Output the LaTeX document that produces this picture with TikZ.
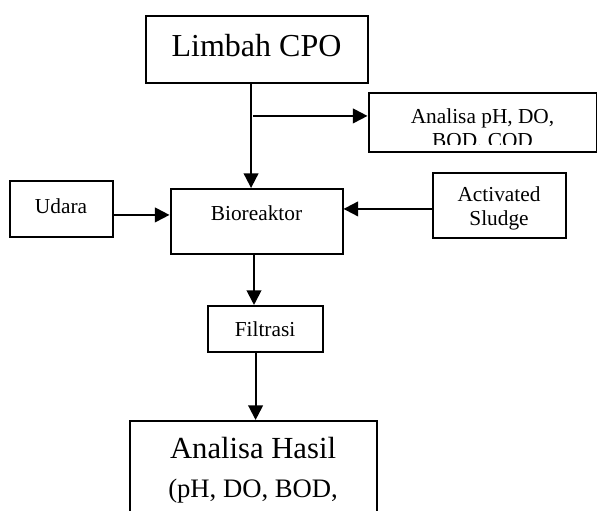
\documentclass[tikz,border=0pt]{standalone}
\usepackage{fontspec}
\setmainfont{Liberation Serif}
\usepackage{tikz}
\usetikzlibrary{positioning}
\usetikzlibrary{arrows.meta}

\begin{document}
\begin{tikzpicture} [>={Triangle[length=11pt,width=11pt]}, line width=1.5pt]
            % Set primary nodes
            \tikzset{
                stepBox/.style={
                        draw,
                        rectangle,
                        inner sep=0pt,
                        align=center,
                        font=\fontsize{16}{17.5}\selectfont
                    }
            }
            \tikzset{
                bigBox/.style={
                        draw,
                        rectangle,
                        inner sep=0pt,
                        align=center,
                        font=\fontsize{24}{28}\selectfont
                    }
            }
            % Page size
            \useasboundingbox (0,0) rectangle (447.75pt,-383.25pt);
            \clip (0,0) rectangle (447.75pt,-383.25pt);
            % Placing nodes
            \node[bigBox, minimum width=166.5pt, minimum height=50.25pt, text depth=5.6pt](limbah) at (192.4pt,-37.1pt){Limbah CPO};
            \node[stepBox, minimum width=171pt, minimum height=44.25pt, right = -0.75pt of limbah, yshift = -54.75pt](analisaAwal){};
            \node[stepBox, minimum width=129pt, minimum height=48.75pt, text depth=13pt, below = 78pt of limbah](bioreaktor){Bioreaktor};
            \node[stepBox, minimum width=77.25pt, minimum height=42pt, text depth=5pt, left = 42pt of bioreaktor, yshift = 9.4pt](udara){Udara};
            \node[stepBox, minimum width=99.75pt, minimum height=48.75pt, text height=33pt, right = 66pt of bioreaktor, yshift = 12pt](sludge){Activated\\Sludge};
            \node[stepBox, minimum width=86.25pt, minimum height=34.5pt, below = 37.5pt of bioreaktor, xshift = 6.4pt](filtrasi){Filtrasi};
            \node[bigBox, font=\fontsize{23}{27.75}\selectfont, minimum width=185.25pt, minimum height=76.5pt, text depth=7.5pt, below = 50.25pt of filtrasi, xshift = -9pt](hasil){Analisa Hasil\\[1.5pt]{\fontsize{20}{24}\selectfont (pH, DO, BOD,}};
            % Text of the first analysis, cut at the bottom
            \begin{scope}
                \clip (analisaAwal.north west) rectangle ([yshift=6pt]analisaAwal.south east);
                \node[font=\fontsize{16}{17.5}\selectfont, align=center, anchor=base](analisaAwalText) at ([yshift=-18.4pt]analisaAwal.center){Analisa pH, DO,\\BOD, COD};
            \end{scope}
            % Draw arrows
            \coordinate (limbahOut) at ([xshift=-4.1pt]limbah.south);
            \coordinate (branch) at (limbahOut |- analisaAwal.west);
            \draw[->](limbahOut) -- (limbahOut |- bioreaktor.north);
            \draw[->]([shift={(1.5pt,4.9pt)}]branch) -- ([yshift=4.9pt]analisaAwal.west);
            \draw[->]([yshift=-4.5pt]udara.east) -- ([yshift=-4.5pt]udara.east -| bioreaktor.west);
            \draw[->]([yshift=-2.6pt]sludge.west) -- ([yshift=-2.6pt]sludge.west -| bioreaktor.east);
            \draw[->]([xshift=-1.9pt]bioreaktor.south) -- ([xshift=-1.9pt]bioreaktor.south |- filtrasi.north);
            \draw[->]([xshift=-7.1pt]filtrasi.south) -- ([xshift=-7.1pt]filtrasi.south |- hasil.north);
        \end{tikzpicture}
\end{document}
